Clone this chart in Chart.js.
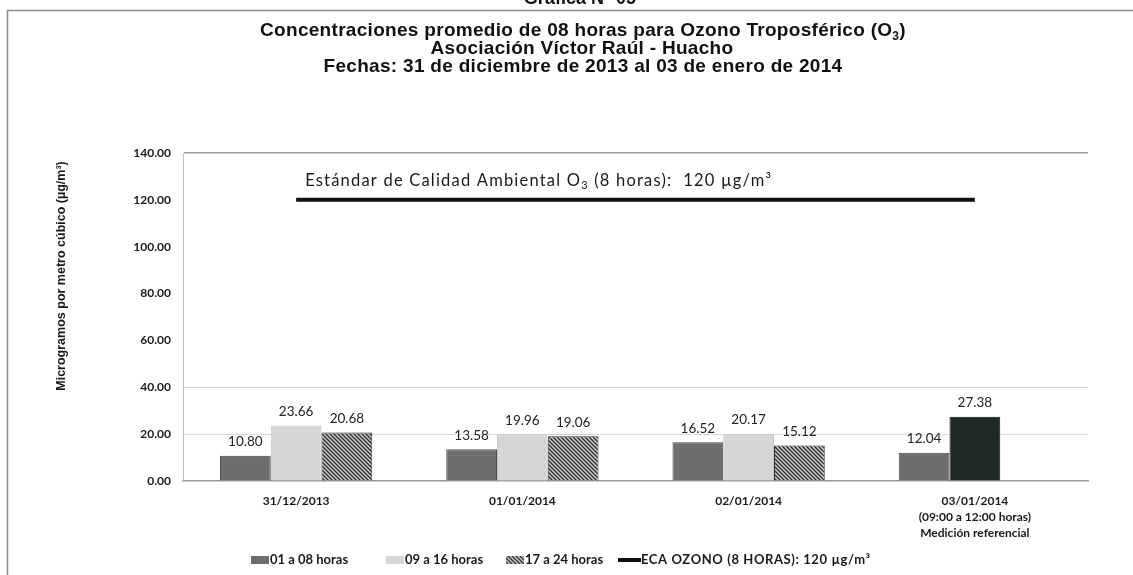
<!DOCTYPE html>
<html>
<head>
<meta charset="utf-8">
<script src="https://cdn.jsdelivr.net/npm/chart.js@4.4.1/dist/chart.umd.min.js"></script>
<style>
  html, body { margin: 0; padding: 0; background: #fff; }
  #wrap { width: 1133px; height: 575px; position: relative; }
</style>
</head>
<body>
<div id="wrap"><canvas id="chart" width="1133" height="575"></canvas></div>
<script>
// Data
const categories = [
	["31/12/2013"],
	["01/01/2014"],
	["02/01/2014"],
	["03/01/2014", "(09:00 a 12:00 horas)", "Medición referencial"],
];
const horas0108 = [10.80, 13.58, 16.52, 12.04];
const horas0916 = [23.66, 19.96, 20.17, 27.38];
const horas1724 = [20.68, 19.06, 15.12, null];
const ecaOzono = [120, 120, 120, 120];
const yMin = 0;
const yMax = 140;
const yStep = 20;

const seriesNames = ["01 a 08 horas", "09 a 16 horas", "17 a 24 horas", "ECA OZONO (8 HORAS): 120 µg/m³"];

const SANS = "'Liberation Sans', Arial, sans-serif";
const CAL = "Lato, 'Open Sans', sans-serif";

// hatch pattern for the 17-24 series
const makeHatch = () => {
	const c = document.createElement("canvas");
	c.width = 4;
	c.height = 4;
	const g = c.getContext("2d");
	g.fillStyle = "#c9c9c9";
	g.fillRect(0, 0, 4, 4);
	g.strokeStyle = "#2e2e2e";
	g.lineWidth = 1.3;
	g.beginPath();
	g.moveTo(-1, -1); g.lineTo(5, 5);
	g.moveTo(-1, 3); g.lineTo(1, 5);
	g.moveTo(3, -1); g.lineTo(5, 1);
	g.stroke();
	return document.getElementById("chart").getContext("2d").createPattern(c, "repeat");
};
const hatch = makeHatch();

const colMid = "#6e6e6e";
const colLight = "#d6d6d6";
const colRef = "#1e2b25";

// draw text with subscript parts
const drawRich = (ctx, parts, x, y, size, weight, family, align, spacing) => {
	ctx.letterSpacing = (spacing || 0) + "px";
	const widths = parts.map((p) => {
		ctx.font = `${weight} ${p.sub ? Math.round(size * 0.65) : size}px ${family}`;
		return ctx.measureText(p.t).width;
	});
	const total = widths.reduce((a, b) => a + b, 0);
	let cx = align === "center" ? x - total / 2 : x;
	ctx.textAlign = "left";
	ctx.textBaseline = "middle";
	parts.forEach((p, i) => {
		ctx.font = `${weight} ${p.sub ? Math.round(size * 0.65) : size}px ${family}`;
		ctx.fillText(p.t, cx, p.sub ? y + size * 0.3 : y);
		cx += widths[i];
	});
	ctx.letterSpacing = "0px";
};

const decorPlugin = {
	id: "decor",
	beforeDraw(chart) {
		const ctx = chart.ctx;
		ctx.save();
		ctx.fillStyle = "#ffffff";
		ctx.fillRect(0, 0, chart.width, chart.height);

		// outer frame
		ctx.strokeStyle = "#8a8a8a";
		ctx.lineWidth = 1.5;
		ctx.beginPath();
		ctx.moveTo(1133, 10.5);
		ctx.lineTo(7.5, 10.5);
		ctx.lineTo(7.5, 575);
		ctx.stroke();

		ctx.fillStyle = "#111";
		// cut-off heading above the frame
		ctx.font = `bold 18px ${SANS}`;
		ctx.textAlign = "center";
		ctx.textBaseline = "alphabetic";
		ctx.fillText("Gráfica N° 05", 580, 4);

		// titles
		drawRich(ctx, [
			{ t: "Concentraciones promedio de 08 horas para Ozono Troposférico (O" },
			{ t: "3", sub: true },
			{ t: ")" },
		], 583, 31, 19, "bold", SANS, "center", 0.3);
		drawRich(ctx, [{ t: "Asociación Víctor Raúl - Huacho" }], 582, 48.5, 19, "bold", SANS, "center", 0.3);
		drawRich(ctx, [{ t: "Fechas: 31 de diciembre de 2013 al 03 de enero de 2014" }], 583, 66.5, 19, "bold", SANS, "center", 0.3);

		// y axis title
		ctx.save();
		ctx.translate(62, 276);
		ctx.rotate(-Math.PI / 2);
		ctx.font = `bold 12.5px ${SANS}`;
		ctx.textAlign = "center";
		ctx.textBaseline = "middle";
		ctx.fillStyle = "#1a1a1a";
		ctx.fillText("Microgramos por metro cúbico (µg/m³)", 0, 0);
		ctx.restore();

		// legend
		const ly = 560;
		ctx.font = `bold 13px ${CAL}`;
		ctx.textBaseline = "middle";
		ctx.textAlign = "left";
		const items = [
			{ x: 251, fill: colMid },
			{ x: 386, fill: colLight },
			{ x: 506, fill: hatch },
		];
		items.forEach((it, i) => {
			ctx.fillStyle = it.fill;
			ctx.fillRect(it.x, ly - 4, 18, 8);
			ctx.fillStyle = "#1a1a1a";
			ctx.fillText(seriesNames[i], it.x + 19, ly);
		});
		ctx.strokeStyle = "#111";
		ctx.lineWidth = 4;
		ctx.beginPath();
		ctx.moveTo(618, ly);
		ctx.lineTo(641, ly);
		ctx.stroke();
		ctx.fillStyle = "#1a1a1a";
		ctx.letterSpacing = "0.6px";
		ctx.fillText(seriesNames[3], 641, ly);
		ctx.letterSpacing = "0px";
		ctx.restore();
	},
	afterDatasetsDraw(chart) {
		const ctx = chart.ctx;
		const xs = chart.scales.x;
		const ys = chart.scales.y;
		ctx.save();
		// standard annotation over the ECA line
		ctx.fillStyle = "#1a1a1a";
		drawRich(ctx, [
			{ t: "Estándar de Calidad Ambiental O" },
			{ t: "3", sub: true },
			{ t: " (8 horas):  120 µg/m³" },
		], xs.getPixelForValue(0) + 9, ys.getPixelForValue(120) - 19, 16.5, "normal", CAL, "left", 1.2);

		// value labels above bars
		ctx.font = `13.5px ${CAL}`;
		ctx.textAlign = "center";
		ctx.textBaseline = "middle";
		ctx.fillStyle = "#222";
		[0, 1, 2].forEach((di) => {
			const meta = chart.getDatasetMeta(di);
			meta.data.forEach((bar, i) => {
				const v = chart.data.datasets[di].data[i];
				if (v === null || v === undefined) return;
				ctx.fillText(v.toFixed(2), bar.x, bar.y - 14);
			});
		});
		ctx.restore();
	},
};

new Chart(document.getElementById("chart").getContext("2d"), {
	data: {
		labels: categories,
		datasets: [
			{
				type: "bar",
				label: seriesNames[0],
				data: horas0108,
				backgroundColor: colMid,
				borderColor: "#4a4a4a",
				borderWidth: 1,
				order: 2,
			},
			{
				type: "bar",
				label: seriesNames[1],
				data: horas0916,
				backgroundColor: [colLight, colLight, colLight, colRef],
				borderColor: ["#c4c4c4", "#c4c4c4", "#c4c4c4", "#111"],
				borderWidth: 1,
				order: 2,
			},
			{
				type: "bar",
				label: seriesNames[2],
				data: horas1724,
				backgroundColor: hatch,
				borderColor: "#333",
				borderWidth: 1,
				order: 2,
			},
			{
				type: "line",
				label: seriesNames[3],
				data: ecaOzono,
				borderColor: "#121212",
				borderWidth: 4,
				pointRadius: 0,
				fill: false,
				order: 1,
			},
		],
	},
	options: {
		responsive: false,
		animation: false,
		layout: { padding: { left: 0, top: 153, right: 45, bottom: 0 } },
		datasets: {
			bar: { categoryPercentage: 0.673, barPercentage: 1.0 },
		},
		plugins: {
			legend: { display: false },
			title: { display: false },
			tooltip: { enabled: false },
		},
		scales: {
			x: {
				grid: { display: false, drawTicks: false },
				border: { display: true, color: "#9a9a9a", width: 1.5 },
				ticks: {
					color: "#1a1a1a",
					font: { family: CAL, size: 12, weight: "bold", lineHeight: 1.33 },
					padding: 12,
					maxRotation: 0,
					autoSkip: false,
				},
				afterFit: (scale) => { scale.height = 94; },
			},
			y: {
				min: yMin,
				max: yMax,
				grid: {
					drawTicks: false,
					color: (c) => {
						const v = c.tick ? c.tick.value : null;
						if (v === 140) return "#a0a0a0";
						if (v === 20 || v === 40) return "#dadada";
						return "rgba(0,0,0,0)";
					},
					lineWidth: (c) => (c.tick && c.tick.value === 140 ? 1.5 : 1),
				},
				border: { display: true, color: "#c0c0c0" },
				ticks: {
					stepSize: yStep,
					color: "#1a1a1a",
					font: { family: CAL, size: 12, weight: "bold" },
					padding: 12,
					callback: (v) => Number(v).toFixed(2),
				},
				afterFit: (scale) => { scale.width = 183; },
			},
		},
	},
	plugins: [decorPlugin],
});
</script>
</body>
</html>
